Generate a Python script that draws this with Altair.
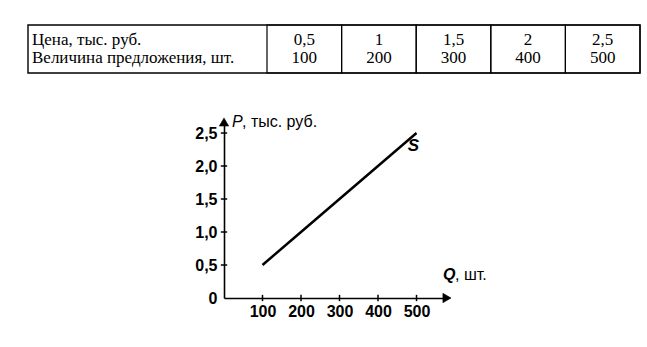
import altair as alt
import pandas as pd

# ---- data ----
price = [0.5, 1.0, 1.5, 2.0, 2.5]
quantity = [100, 200, 300, 400, 500]
price_text = ["0,5", "1", "1,5", "2", "2,5"]
row_labels = ["Цена, тыс. руб.", "Величина предложения, шт."]
y_ticks = [0.5, 1.0, 1.5, 2.0, 2.5]
x_ticks = [100, 200, 300, 400, 500]

X_MAX = 579.2
Y_MAX = 2.667

line_df = pd.DataFrame({"Q": quantity, "P": price})

xs = alt.Scale(domain=[0, X_MAX], nice=False, zero=False)
ys = alt.Scale(domain=[0, Y_MAX], nice=False, zero=False)

SANS = "Liberation Sans"
SERIF = "Liberation Serif"

x_axis = alt.Axis(
    values=x_ticks, title=None, grid=False, ticks=False,
    domainColor="black", domainWidth=1.6, labelColor="black",
    labelFont=SANS, labelFontSize=16, labelFontWeight="bold",
    labelPadding=5, labelOverlap=False, labelFlush=False)
y_axis = alt.Axis(
    values=[0] + y_ticks, title=None, grid=False, ticks=False,
    domainColor="black", domainWidth=1.6, labelColor="black",
    labelFont=SANS, labelFontSize=16, labelFontWeight="bold",
    labelPadding=7, labelOverlap=False, labelFlush=False,
    labelExpr="datum.value == 0 ? '0' : replace(format(datum.value, '.1f'), '.', ',')")

X = lambda: alt.X("Q:Q", scale=xs, axis=x_axis)
Y = lambda: alt.Y("P:Q", scale=ys, axis=y_axis)

line = alt.Chart(line_df).mark_line(color="black", strokeWidth=2.5).encode(x=X(), y=Y())

ytick_df = pd.DataFrame({"Q": [0] * len(y_ticks), "P": y_ticks})
xtick_df = pd.DataFrame({"Q": x_ticks, "P": [0] * len(x_ticks)})

yticks = alt.Chart(ytick_df).mark_point(
    shape="M-1,0L1,0", size=40, filled=False, stroke="black", strokeWidth=1.5, opacity=1
).encode(x=X(), y=Y())

xticks = alt.Chart(xtick_df).mark_point(
    shape="M0,-1L0,1", size=40, filled=False, stroke="black", strokeWidth=1.5, opacity=1
).encode(x=X(), y=Y())

# axis ends (arrow heads and axis names)
arrow_df = pd.DataFrame({"Q": [0, X_MAX], "P": [Y_MAX, 0], "dir": ["up", "right"]})

arrows = alt.Chart(arrow_df).mark_point(
    filled=True, fill="black", stroke="black", strokeWidth=0.5, opacity=1, size=90
).encode(
    x=X(), y=Y(),
    shape=alt.Shape("dir:N", scale=alt.Scale(domain=["up", "right"],
                                             range=["triangle-up", "triangle-right"]),
                    legend=None),
)

y_end = arrow_df.iloc[[0]][["Q", "P"]]
x_end = arrow_df.iloc[[1]][["Q", "P"]]

p_label = alt.Chart(y_end).mark_text(
    text="P", font=SANS, fontSize=16, fontStyle="italic", align="left",
    baseline="middle", dx=8, color="black"
).encode(x=X(), y=Y())

p_unit = alt.Chart(y_end).mark_text(
    text=", тыс. руб.", font=SANS, fontSize=16, align="left",
    baseline="middle", dx=18, color="black"
).encode(x=X(), y=Y())

q_label = alt.Chart(x_end).mark_text(
    text="Q", font=SANS, fontSize=16, fontStyle="italic", fontWeight="bold",
    align="left", baseline="middle", dx=-4, dy=-23, color="black"
).encode(x=X(), y=Y())

q_unit = alt.Chart(x_end).mark_text(
    text=", шт.", font=SANS, fontSize=16, align="left",
    baseline="middle", dx=8, dy=-23, color="black"
).encode(x=X(), y=Y())

s_label = alt.Chart(pd.DataFrame({"Q": [quantity[-1]], "P": [price[-1]]})).mark_text(
    text="S", font=SANS, fontSize=17, fontStyle="italic", fontWeight="bold",
    align="center", baseline="middle", dx=-3, dy=13, color="black"
).encode(x=X(), y=Y())

main = alt.layer(line, yticks, xticks, arrows, p_label, p_unit, q_label, q_unit, s_label)

# ---- table ----
tdf = pd.DataFrame({
    "col": price_text * 2,
    "row": [row_labels[0]] * len(price_text) + [row_labels[1]] * len(price_text),
    "val": price_text + [str(q) for q in quantity],
})
tx = alt.Scale(type="band", domain=price_text, range=[43, 416], paddingInner=0, paddingOuter=0)
ty = alt.Scale(type="band", domain=row_labels, range=[-97, -49], paddingInner=0, paddingOuter=0.38)

cells = alt.Chart(pd.DataFrame({"col": price_text})).mark_rect(
    fill="white", fillOpacity=0, stroke="black", strokeWidth=1.2
).encode(x=alt.X("col:N", scale=tx, axis=None), y=alt.value(-97), y2=alt.value(-49))

frame = alt.Chart(pd.DataFrame({"k": [0]})).mark_rect(
    fill="white", fillOpacity=0, stroke="black", strokeWidth=1.4
).encode(x=alt.value(-196), x2=alt.value(416), y=alt.value(-97), y2=alt.value(-49))

vals = alt.Chart(tdf).mark_text(font=SERIF, fontSize=17, color="black", baseline="middle").encode(
    x=alt.X("col:N", scale=tx, axis=None),
    y=alt.Y("row:N", scale=ty, axis=None),
    text="val:N",
)

rows = alt.Chart(pd.DataFrame({"row": row_labels})).mark_text(
    font=SERIF, fontSize=17, color="black", align="left", baseline="middle"
).encode(x=alt.value(-192), y=alt.Y("row:N", scale=ty, axis=None), text="row:N")

table = alt.layer(frame, cells, vals, rows)

chart = alt.layer(main, table).resolve_scale(x="independent", y="independent").properties(
    width=223, height=176,
    padding={"left": 224, "top": 122, "right": 200, "bottom": 49},
    autosize="none", background="white",
).configure_view(stroke=None).configure_axis(labelOverlap=False)

chart.save("out.html", embed_options={"renderer": "svg", "actions": False})
